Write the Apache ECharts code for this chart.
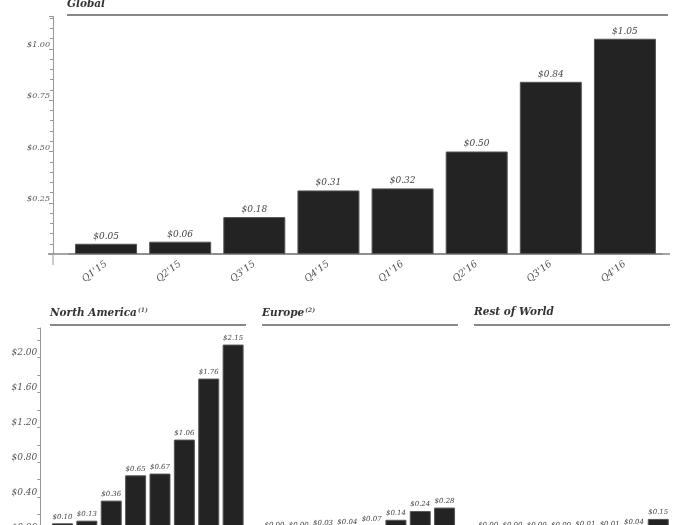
<!DOCTYPE html>
<html><head><meta charset="utf-8">
<script src="https://cdn.jsdelivr.net/npm/echarts@6/dist/echarts.min.js"></script>
<style>html,body{margin:0;background:#fff;overflow:hidden}#c{width:700px;height:525px}</style>
</head><body><div id="c"></div>
<script>
const quarters = ["Q1'15","Q2'15","Q3'15","Q4'15","Q1'16","Q2'16","Q3'16","Q4'16"];
const globalValues = [0.05,0.06,0.18,0.31,0.32,0.50,0.84,1.05];
const northAmericaValues = [0.10,0.13,0.36,0.65,0.67,1.06,1.76,2.15];
const europeValues = [0.00,0.00,0.03,0.04,0.07,0.14,0.24,0.28];
const restOfWorldValues = [0.00,0.00,0.00,0.00,0.01,0.01,0.04,0.15];
const globalTicks = [0.25,0.50,0.75,1.00];
const regionalTicks = [0.00,0.40,0.80,1.20,1.60,2.00];
const panelTitles = ['Global','North America','Europe','Rest of World'];
const panelNotes = ['', '(1)', '(2)', ''];

const FONT = '"DejaVu Serif", serif';
const money = v => '$' + v.toFixed(2);
const tickFmt = ticks => v => ticks.some(t => Math.abs(t - v) < 1e-6) ? money(v) : '';

const chart = echarts.init(document.getElementById('c'));

const grids = [
  {left: 69, width: 593, top: 16.2, height: 237.8},
  {left: 50.3, width: 195, top: 328, height: 204},
  {left: 262.3, width: 194.4, top: 328, height: 204},
  {left: 476, width: 194.4, top: 328, height: 204}
].map(g => Object.assign({outerBoundsMode: 'none', containLabel: false}, g));

function xAxis(i){
  return {
    type: 'category', gridIndex: i, data: quarters,
    axisLine: {show: i === 0, lineStyle: {color: '#888', width: 1.5}},
    axisTick: {show: false},
    axisLabel: i === 0 ? {rotate: 37, margin: 9, fontFamily: FONT, fontStyle: 'italic', fontSize: 9.5, color: '#555'} : {show: false}
  };
}

const yAxes = [
  {type: 'value', gridIndex: 0, min: 0, max: 1.16, interval: 0.25, offset: 16,
   axisLine: {show: true, lineStyle: {color: '#999', width: 1}},
   axisTick: {show: true, length: 4, lineStyle: {color: '#999'}},
   minorTick: {show: true, splitNumber: 5, length: 3, lineStyle: {color: '#999'}},
   splitLine: {show: false},
   axisLabel: {formatter: tickFmt(globalTicks), margin: 3, verticalAlign: 'bottom', fontFamily: FONT, fontStyle: 'italic', fontSize: 8, color: '#555'}},
  {type: 'value', gridIndex: 1, min: 0, max: 2.34, interval: 0.4, offset: 10,
   axisLine: {show: true, lineStyle: {color: '#999', width: 1}},
   axisTick: {show: true, length: 3, lineStyle: {color: '#999'}},
   minorTick: {show: true, splitNumber: 2, length: 3, lineStyle: {color: '#999'}},
   splitLine: {show: false},
   axisLabel: {formatter: tickFmt(regionalTicks), margin: 3, verticalAlign: 'bottom', fontFamily: FONT, fontStyle: 'italic', fontSize: 9, color: '#555'}},
  {type: 'value', gridIndex: 2, min: 0, max: 2.34, show: false, splitLine: {show: false}},
  {type: 'value', gridIndex: 3, min: 0, max: 2.34, show: false, splitLine: {show: false}}
];

function barSeries(i, data, width, fontSize){
  return {
    type: 'bar', xAxisIndex: i, yAxisIndex: i, data: data, barWidth: width,
    itemStyle: {color: '#232323', borderColor: '#555', borderWidth: 1},
    label: {show: true, position: 'top', distance: 3, formatter: p => money(p.value),
            fontFamily: FONT, fontStyle: 'italic', fontSize: fontSize, color: '#444'}
  };
}

const titleTitleStyle = {fontFamily: FONT, fontStyle: 'italic', fontWeight: 'bold', fontSize: 10.5, color: '#333'};
const titleLeft = [67, 50, 262, 474];
const titleTop = [-1, 307, 307, 307];
const lineSpan = [[67, 668, 15], [50, 246, 325], [262, 458, 325], [474, 670, 325]];
const g0 = grids[0];
const baseY = g0.top + g0.height;
const axisX = g0.left - 16;

const option = {
  animation: false,
  backgroundColor: '#fff',
  title: panelTitles.map((t, i) => ({
    text: panelNotes[i] ? '{a|' + t + '}{s|' + panelNotes[i] + '}' : '{a|' + t + '}',
    left: titleLeft[i], top: titleTop[i], padding: 0,
    textStyle: {rich: {
      a: titleTitleStyle,
      s: {fontFamily: FONT, fontStyle: 'italic', fontSize: 6, color: '#555', verticalAlign: 'top', padding: [0,0,6,1]}
    }}
  })),
  graphic: lineSpan.map(s => ({type: 'line', shape: {x1: s[0], y1: s[2], x2: s[1], y2: s[2]}, style: {stroke: '#888', lineWidth: 2}}))
    .concat([
      {type: 'line', shape: {x1: axisX - 5, y1: baseY, x2: g0.left + g0.width + 8, y2: baseY}, style: {stroke: '#888', lineWidth: 1.5}},
      {type: 'line', shape: {x1: axisX, y1: baseY, x2: axisX, y2: baseY + 11}, style: {stroke: '#999', lineWidth: 1}}
    ]),
  grid: grids,
  xAxis: [0,1,2,3].map(xAxis),
  yAxis: yAxes,
  series: [
    barSeries(0, globalValues, 62, 9),
    barSeries(1, northAmericaValues, 21, 7),
    barSeries(2, europeValues, 21, 7),
    barSeries(3, restOfWorldValues, 21, 7)
  ]
};
chart.setOption(option);
</script></body></html>
